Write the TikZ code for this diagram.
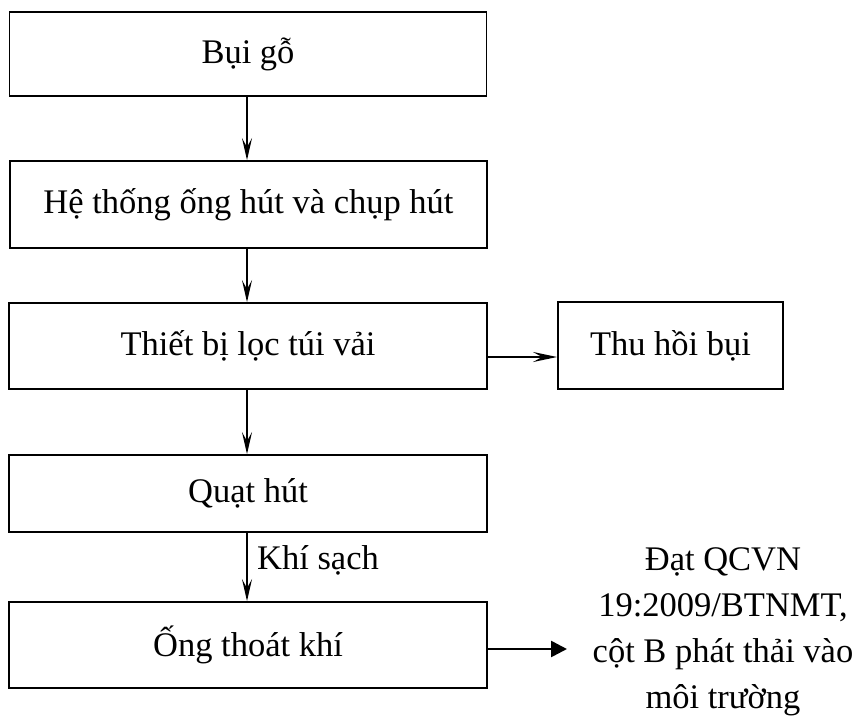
\documentclass[tikz,border=0pt]{standalone}
\usepackage{fontspec}
\setmainfont{Liberation Serif}
\usetikzlibrary{arrows.meta}
\begin{document}
\begin{tikzpicture}[x=1pt,y=-1pt,
  stepbox/.style={draw,line width=1.8pt,inner sep=0pt,
    font=\fontsize{34.5}{46}\selectfont},
  flow/.style={line width=2pt,-{Stealth[length=22pt,width=10pt,inset=9pt]}},
  sideflow/.style={line width=2.4pt,-{Stealth[length=24pt,width=10pt,inset=9pt]}},
  outflow/.style={line width=2.6pt,-{Triangle[length=16pt,width=16pt]}},
  lbl/.style={font=\fontsize{34.5}{46}\selectfont,inner sep=0pt}]
\useasboundingbox (0,0) rectangle (855,716);

\node[stepbox,minimum width=477pt,minimum height=84pt] (bui) at (248,54) {Bụi gỗ};
\node[stepbox,minimum width=477pt,minimum height=87pt] (ong) at (248.5,204.5) {Hệ thống ống hút và chụp hút};
\node[stepbox,minimum width=478pt,minimum height=86pt] (loc) at (248,346) {Thiết bị lọc túi vải};
\node[stepbox,minimum width=225pt,minimum height=87pt] (thu) at (670.5,345.5) {Thu hồi bụi};
\node[stepbox,minimum width=478pt,minimum height=77pt] (quat) at (248,493.5) {Quạt hút};
\node[stepbox,minimum width=478pt,minimum height=86pt] (thoat) at (248,645) {Ống thoát khí};

\node[lbl,align=center] (dat) at (723,632) {Đạt QCVN\\19:2009/BTNMT,\\cột B phát thải vào\\môi trường};
\node[lbl,anchor=west] (sach) at (257,560) {Khí sạch};

\coordinate (out) at (567,649);

\draw[flow] (bui.south -| 247,0) -- (ong.north -| 247,0);
\draw[flow] (ong.south -| 247,0) -- (loc.north -| 247,0);
\draw[flow] (loc.south -| 247,0) -- (quat.north -| 247,0);
\draw[flow] (quat.south -| 247,0) -- (thoat.north -| 247,0);
\draw[sideflow] (loc.east |- 0,357) -- (thu.west |- 0,357);
\draw[outflow] (thoat.east |- out) -- (out);
\end{tikzpicture}
\end{document}
